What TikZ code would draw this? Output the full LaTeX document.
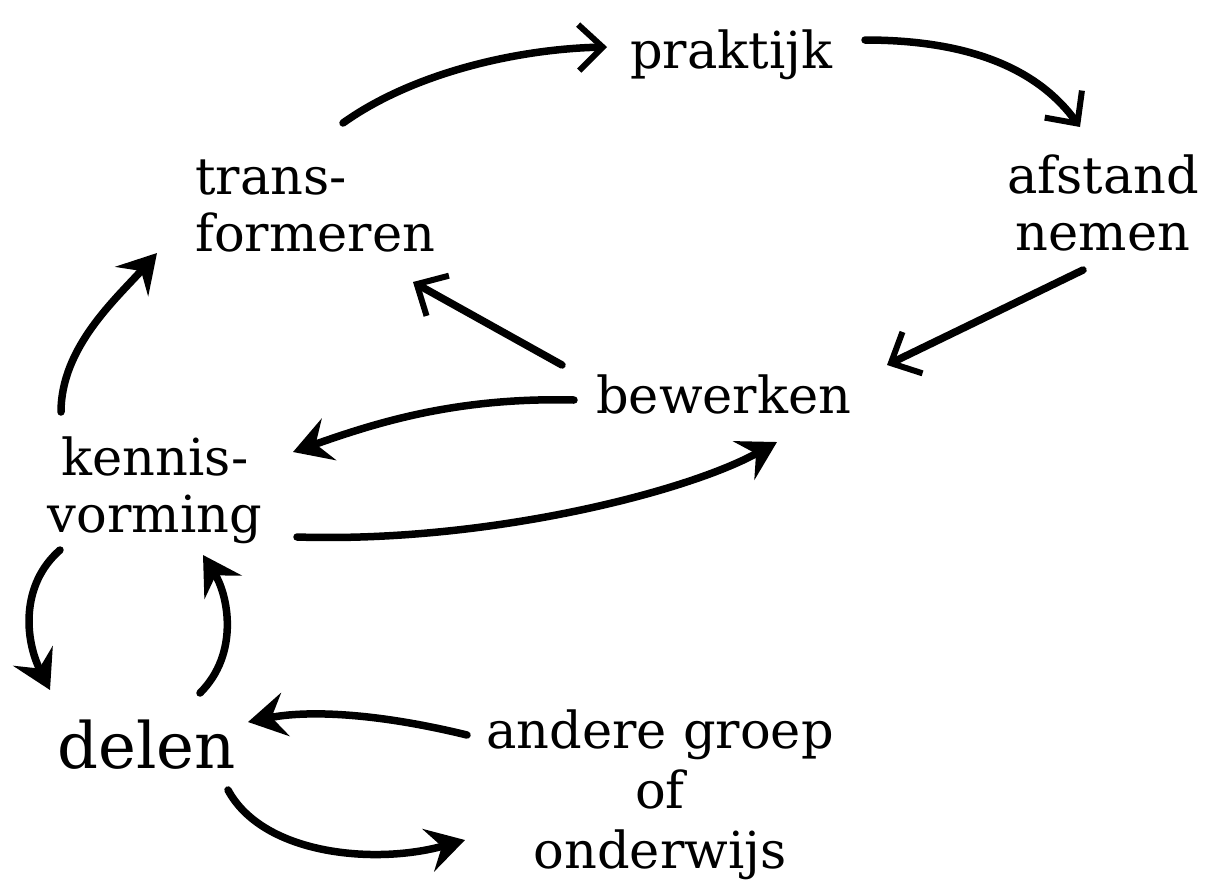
\documentclass[tikz,border=0pt]{standalone}
\usepackage{fontspec}
\setmainfont{DejaVu Serif}
\usetikzlibrary{arrows.meta,calc}
\begin{document}
\begin{tikzpicture}[x=1pt,y=-1pt,
  lbl/.style={inner sep=0pt,font=\fontsize{51}{57}\selectfont},
  biglbl/.style={inner sep=0pt,font=\fontsize{64}{70}\selectfont},
  stroke/.style={line width=7.5pt,line cap=round,black},
  barb/.style={stroke,-{Straight Barb[length=24pt,width=46pt,line width=6pt]}},
  stealthhead/.style={stroke,-{Stealth[length=38pt,width=44pt,inset=14pt]}}]
\useasboundingbox (0,0) rectangle (1209,879);
\fill[white] (0,0) rectangle (1209,879);

\node[lbl,anchor=base west] (P) at (630,68) {praktijk};
\node[lbl,anchor=base west,align=left] (T) at (195,251) {trans-\\formeren};
\node[lbl,anchor=base,align=center] (A) at (1103,250) {afstand\\nemen};
\node[lbl,anchor=base west] (B) at (596,413) {bewerken};
\node[lbl,anchor=base,align=center] (K) at (155,532) {kennis-\\vorming};
\node[biglbl,anchor=base west] (D) at (57,768) {delen};
\node[lbl,anchor=base,align=center,font=\fontsize{51}{60}\selectfont] (O) at (660,868) {andere groep\\of\\onderwijs};

% transformeren -> praktijk
\draw[barb] ($(T.base west)+(148,-128)$) .. controls +(70,-50) and +(-90,2) .. ($(P.base west)+(-23,-21)$);
% praktijk -> afstand nemen
\draw[barb] ($(P.base west)+(235,-28)$) .. controls +(110,0) and +(-40,-55) .. ($(A.base)+(-23,-123)$);
% afstand nemen -> bewerken
\draw[barb] ($(A.base)+(-20,20)$) -- ($(B.base west)+(291,-48)$);
% bewerken -> transformeren
\draw[barb] ($(B.base west)+(-34,-48)$) -- ($(T.base west)+(218,31)$);
% bewerken -> kennisvorming
\draw[stealthhead] ($(B.base west)+(-22,-13)$) .. controls +(-120,-3) and +(80,-28) .. ($(K.base)+(138,-80)$);
% kennisvorming -> bewerken
\draw[stealthhead] ($(K.base)+(142,5)$) .. controls +(190,6) and +(-90,50) .. ($(B.base west)+(181,29)$);
% kennisvorming -> transformeren
\draw[stealthhead] ($(K.base)+(-94,-120)$) .. controls +(0,-65) and +(-40,45) .. ($(T.base west)+(-38,2)$);
% kennisvorming -> delen
\draw[stealthhead] ($(K.base)+(-95,18)$) .. controls +(-40,35) and +(-25,-50) .. ($(D.base west)+(-7,-78)$);
% delen -> kennisvorming
\draw[stealthhead] ($(D.base west)+(143,-75)$) .. controls +(40,-40) and +(25,40) .. ($(K.base)+(48,23)$);
% andere groep -> delen
\draw[stealthhead] ($(O.base)+(-193,-133)$) .. controls +(-90,-22) and +(60,-12) .. ($(D.base west)+(191,-46)$);
% delen -> andere groep
\draw[stealthhead] ($(D.base west)+(171,22)$) .. controls +(35,65) and +(-90,25) .. ($(O.base)+(-195,-28)$);
\end{tikzpicture}
\end{document}
